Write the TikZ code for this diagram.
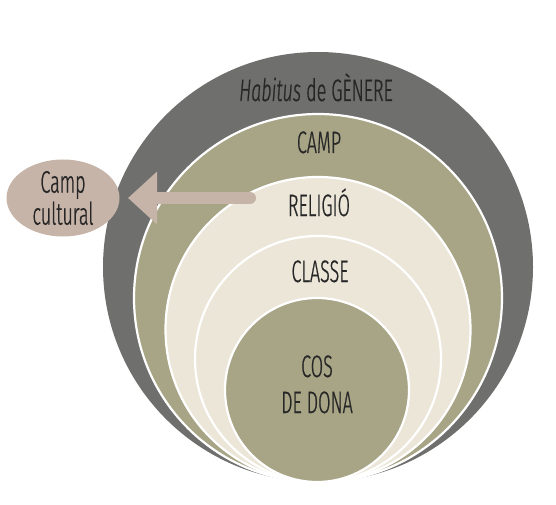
\documentclass[tikz,border=0pt]{standalone}
\usepackage{fontspec}
\setmainfont{Fira Sans}[UprightFont=* Light,ItalicFont=* Light Italic,FakeStretch=0.58,FakeBold=0.7]
\usetikzlibrary{arrows.meta,shapes.geometric}
\definecolor{ringdark}{HTML}{6F6F6E}
\definecolor{khaki}{HTML}{A8A586}
\definecolor{cream}{HTML}{EBE6D8}
\definecolor{rose}{HTML}{C7B4A8}
\definecolor{txt}{HTML}{262626}
\begin{document}
\begin{tikzpicture}[x=1pt,y=-1pt,
  ring/.style={circle,inner sep=0pt,minimum size=#1,draw=white,line width=2.2pt},
  lab/.style={anchor=base,text=txt,font=\fontsize{31}{32}\selectfont,inner sep=0pt}]
\useasboundingbox (0,0) rectangle (556,505);
\node[ring=430pt,fill=ringdark,draw=none] (habitus) at (318,267) {};
\node[ring=368pt,fill=khaki] (camp) at (318,298) {};
\node[ring=305pt,fill=cream] (religio) at (318,329.5) {};
\node[ring=246pt,fill=cream] (classe) at (318,359) {};
\node[ring=184pt,fill=khaki] (cos) at (317,390) {};
\node[lab] (thabitus) at (316,101) {\itshape Habitus\upshape{} de GÈNERE};
\node[lab] (tcamp) at (319,153) {CAMP};
\node[lab] (treligio) at (319,216) {RELIGIÓ};
\node[lab] (tclasse) at (320,282) {CLASSE};
\node[lab] (tcos) at (317,377) {COS};
\node[lab] (tdona) at (317,413) {DE DONA};
\node[ellipse,fill=rose,minimum width=113pt,minimum height=77pt,inner sep=0pt,
  align=center,text=txt,font=\fontsize{31}{32}\selectfont] (cult) at (63,198) {Camp\\cultural};
\coordinate (arrS) at (250,198);
\coordinate (arrE) at (128,198);
\draw[rose,line width=12pt,line cap=round,-{Triangle[width=51pt,length=29pt]}] (arrS) -- (arrE);
\end{tikzpicture}
\end{document}
